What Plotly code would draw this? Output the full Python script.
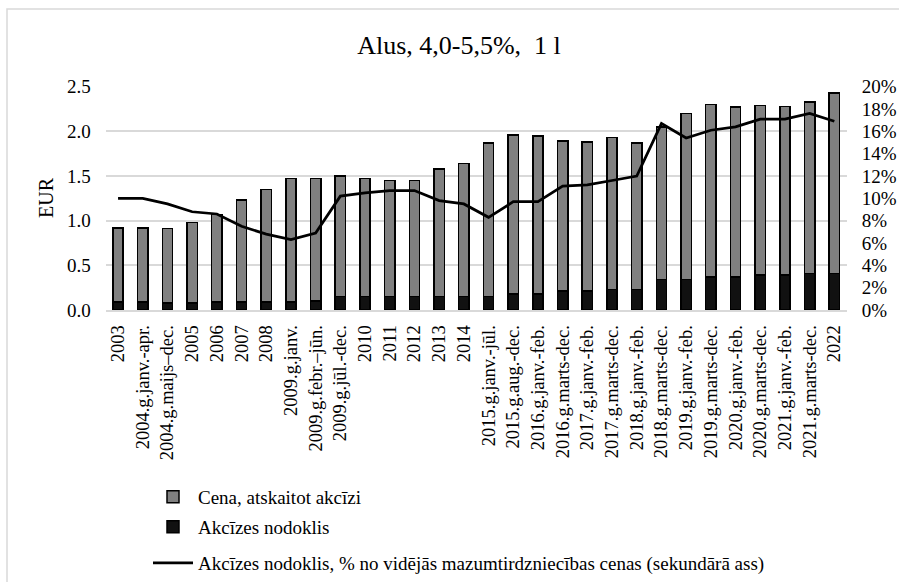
import plotly.graph_objects as go

W, H = 899, 582

periods = [
    "2003", "2004.g.janv.-apr.", "2004.g.maijs–dec.", "2005", "2006", "2007", "2008",
    "2009.g.janv.", "2009.g.febr.–jūn.", "2009.g.jūl.-dec.", "2010", "2011", "2012",
    "2013", "2014", "2015.g.janv.-jūl.", "2015.g.aug.-dec.", "2016.g.janv.-feb.",
    "2016.g.marts-dec.", "2017.g.janv.-feb.", "2017.g.marts-dec.", "2018.g.janv.-feb.",
    "2018.g.marts-dec.", "2019.g.janv.-feb.", "2019.g.marts-dec.", "2020.g.janv.-feb.",
    "2020.g.marts-dec.", "2021.g.janv.-feb.", "2021.g.marts-dec.", "2022",
]

# Price without excise, EUR per 1 l
price_excl_excise = [
    0.83, 0.83, 0.83, 0.90, 0.98, 1.14, 1.26, 1.38, 1.37, 1.35, 1.32, 1.30, 1.30,
    1.43, 1.49, 1.72, 1.78, 1.77, 1.68, 1.67, 1.70, 1.64, 1.71, 1.86, 1.93, 1.90,
    1.90, 1.89, 1.92, 2.02,
]

# Excise tax, EUR per 1 l
excise_tax = [
    0.09, 0.09, 0.08, 0.08, 0.09, 0.09, 0.09, 0.09, 0.10, 0.15, 0.15, 0.15, 0.15,
    0.15, 0.15, 0.15, 0.18, 0.18, 0.21, 0.21, 0.23, 0.23, 0.34, 0.34, 0.37, 0.37,
    0.39, 0.39, 0.41, 0.41,
]

# Excise share of average retail price, %
excise_share_pct = [
    10.0, 10.0, 9.5, 8.8, 8.6, 7.5, 6.8, 6.3, 6.9, 10.2, 10.5, 10.7, 10.7,
    9.8, 9.5, 8.3, 9.7, 9.7, 11.1, 11.2, 11.6, 12.0, 16.7, 15.4, 16.1, 16.4,
    17.1, 17.1, 17.6, 16.9,
]

left_ticks = [0.0, 0.5, 1.0, 1.5, 2.0, 2.5]
right_ticks = [0.00, 0.02, 0.04, 0.06, 0.08, 0.10, 0.12, 0.14, 0.16, 0.18, 0.20]

FONT = "Liberation Serif"
GRID = "#d9d9d9"

# plot area in pixels
px_left, px_right, px_top, px_bottom = 105.7, 846.7, 86.7, 310.0

fig = go.Figure()

fig.add_trace(go.Bar(
    x=periods, y=excise_tax, name="Akcīzes nodoklis",
    marker=dict(color="#111111", line=dict(color="#000000", width=1.5)),
    legend="legend2",
))
fig.add_trace(go.Bar(
    x=periods, y=price_excl_excise, name="Cena, atskaitot akcīzi",
    marker=dict(color="#808080", line=dict(color="#000000", width=1.5)),
    legend="legend",
))
fig.add_trace(go.Scatter(
    x=periods, y=[v / 100 for v in excise_share_pct],
    name="Akcīzes nodoklis, % no vidējās mazumtirdzniecības cenas (sekundārā ass)",
    mode="lines", line=dict(color="#000000", width=2.75),
    yaxis="y2", legend="legend3",
))

def leg(ypx):
    return dict(
        x=148 / W, y=1 - ypx / H, xanchor="left", yanchor="middle",
        font=dict(family=FONT, size=19, color="#000000"),
        bgcolor="rgba(0,0,0,0)", itemwidth=40,
    )

fig.update_layout(
    width=W, height=H,
    margin=dict(l=0, r=0, t=0, b=0, autoexpand=False),
    paper_bgcolor="#ffffff", plot_bgcolor="#ffffff",
    barmode="stack", bargap=0.58,
    showlegend=True,
    font=dict(family=FONT, color="#000000"),
    title=dict(
        text="Alus, 4,0-5,5%,  1 l", x=459 / W, xanchor="center",
        y=1 - 45 / H, yanchor="middle",
        font=dict(family=FONT, size=26, color="#000000"),
    ),
    xaxis=dict(
        domain=[px_left / W, px_right / W], type="category",
        tickangle=-90, tickfont=dict(family=FONT, size=18.5, color="#000000"),
        showline=True, linecolor=GRID, linewidth=1.5, showgrid=False,
        ticks="", automargin=False, ticklabelstandoff=6,
    ),
    yaxis=dict(
        domain=[1 - px_bottom / H, 1 - px_top / H],
        range=[0, 2.5], tickvals=left_ticks, tickformat=".1f",
        tickfont=dict(family=FONT, size=19, color="#000000"),
        showgrid=True, gridcolor=GRID, gridwidth=1.5, zeroline=False,
        showline=False, ticks="", automargin=False, ticklabelstandoff=14,
    ),
    yaxis2=dict(
        overlaying="y", side="right",
        range=[0, 0.20], tickvals=right_ticks, tickformat=".0%",
        tickfont=dict(family=FONT, size=19, color="#000000"),
        showgrid=False, zeroline=False, showline=False, ticks="",
        automargin=False, ticklabelstandoff=14,
    ),
    legend=leg(497),
    legend2=leg(527),
    legend3=leg(563),
    annotations=[dict(
        text="EUR", textangle=-90, x=46 / W, y=1 - 198 / H,
        xref="paper", yref="paper", showarrow=False,
        xanchor="center", yanchor="middle",
        font=dict(family=FONT, size=20, color="#000000"),
    )],
    shapes=[dict(
        type="rect", xref="paper", yref="paper",
        x0=7 / W, y0=-0.05, x1=1.05, y1=1 - 9 / H,
        line=dict(color=GRID, width=1.5), fillcolor="rgba(0,0,0,0)",
        layer="below",
    )],
)

fig.write_html("out.html")
